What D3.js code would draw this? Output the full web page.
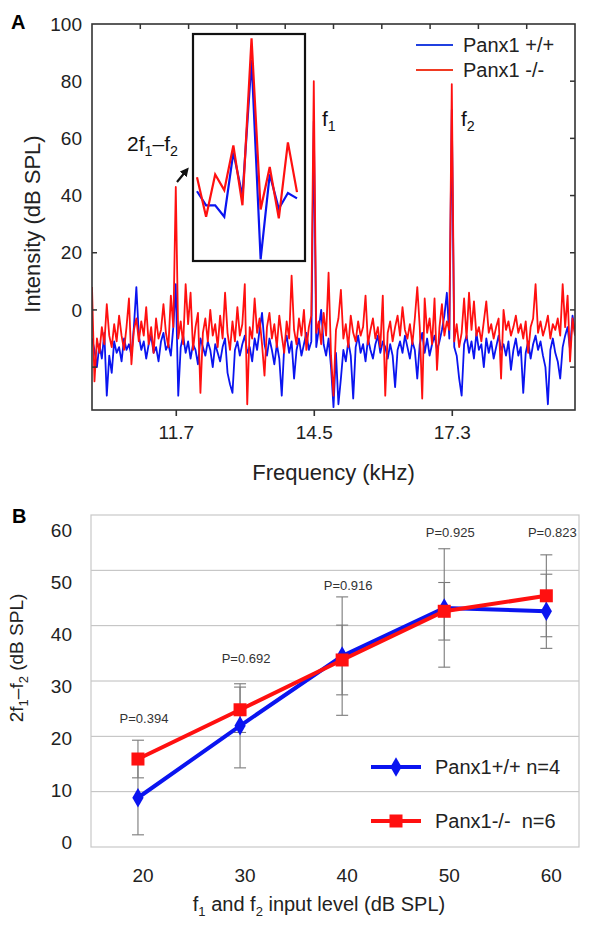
<!DOCTYPE html>
<html><head><meta charset="utf-8">
<script src="https://cdn.jsdelivr.net/npm/d3@7"></script>
<style>body{margin:0;background:#fff}svg{display:block;font-family:Arial,"Liberation Sans",sans-serif}</style>
</head><body><svg id="c" width="590" height="926"></svg>
<script>
// ---------- Panel A data ----------
const freqStart = 10.0, freqEnd = 19.8;           // kHz span of the spectrum bins
const freqTicks = [11.7, 14.5, 17.3];
const intensityTicks = [0, 20, 40, 60, 80, 100];
const spectrumWT = [-10,-14,-20,-12,-17,-8,-30,-16,-22,-11,-15,-13,-18,-10,-14,-12,-16,-6,8,-9,
-14,-11,-17,-12,-9,-15,-13,-18,-11,-8,-14,-12,-16,-6,9,-30,-13,-9,-15,-11,
-17,-12,-14,-19,-10,-13,-16,-11,-14,-20,-12,-15,-18,-13,-10,-22,-26,-29,-14,-11,
-16,-12,-9,-15,-13,-18,-10,-14,-7,-1,-12,-16,-10,-14,-19,-12,-17,-30,-13,-9,
-15,-11,-24,-14,-10,-16,-12,-8,-14,-11,66,-13,-7,0,-12,-16,-10,-20,-34,-15,
-33,-24,-14,-18,-11,-16,-31,-13,-9,-15,-12,-18,-10,-14,-17,-12,-9,-15,-11,-13,
-17,-12,-16,-27,-14,-11,-15,-9,-13,-17,-11,-14,-24,-12,-8,-15,-10,-16,-12,-9,
-14,-11,-7,-2,6,-10,70,-13,-16,-24,-30,-12,-9,-15,-11,-17,-8,-14,-12,-20,
-10,-15,-11,-17,-13,-9,-14,-12,-16,-11,-21,-14,-10,-16,-13,-29,-15,-11,-17,-12,
-9,-14,-11,-16,-20,-33,-14,-10,-15,-18,-24,-13,-9,-6,-14,-2,-8];
const spectrumKO = [8,-25,-10,-15,-6,-12,2,-9,-13,-5,-11,-2,-9,-14,-6,4,-19,-7,-3,-11,
-4,-9,1,-12,-6,-15,-3,-10,-7,2,-8,-13,5,-6,43,-10,-4,-12,9,-5,
6,-14,-6,-1,-29,-8,-3,-11,0,-9,-5,-13,-2,-10,6,-8,-14,-4,-11,1,
-9,-5,9,-33,-6,-10,4,-8,-3,-12,-23,-6,-1,-10,-5,-13,-2,-9,-15,-4,
-10,12,-7,-12,-3,-9,0,-14,-6,-2,80,-8,-4,-12,-1,-9,13,-16,-30,-7,
-3,7,-10,-5,-13,-2,-8,-11,-4,-9,-6,5,-12,-7,-3,-10,-6,-13,5,-30,
-8,-4,-11,-6,-2,-9,1,-7,-10,-5,-12,-3,8,-6,-31,4,-8,-3,-12,4,
-21,-6,2,-9,-4,-7,79,-11,-5,-13,-8,4,-10,6,-7,3,-9,-6,-11,-4,
3,-8,-5,-10,-6,-3,-24,0,-7,-4,-9,-6,-2,-8,-5,-10,-4,-15,-6,-3,
9,-8,-4,-9,-6,-2,-10,-5,-7,-3,-9,9,-6,5,-18,-3,-9];
const insetWT = [41.5,36.6,36.6,32.6,55.1,39.8,87.5,17.7,47.4,35.4,40.9,39.0];
const insetKO = [46.4,32.6,47.4,41.9,57.5,36.6,95.0,35.1,50.0,32.0,58.6,41.2];

// ---------- Panel B data ----------
const levels = [20, 30, 40, 50, 60];
const dpWT = [8.9, 21.9, 34.5, 43.2, 42.6];
const dpKO = [15.9, 24.8, 33.8, 42.6, 45.4];
const errWT = [6.7, 7.6, 10.7, 10.7, 6.7];
const errKO = [3.4, 4.1, 6.3, 5.2, 7.4];
const pLabels = ["P=0.394", "P=0.692", "P=0.916", "P=0.925", "P=0.823"];
const pLabelLevel = [23.3, 34, 47.2, 56.8, 56.8];
const dpTicks = [0, 10, 20, 30, 40, 50, 60];

const BLUE = "#0a14f0", RED = "#ff1010";
const svg = d3.select("#c");

// ================= PANEL A =================
const A = {l: 92, r: 575, t: 24, b: 410};
const xA = d3.scaleLinear().domain([freqStart, freqEnd]).range([A.l, A.r]);
const yA = d3.scaleLinear().domain([-35, 100]).range([A.b, A.t]);
const binFreq = d3.scaleLinear().domain([0, spectrumKO.length - 1]).range([freqStart, freqEnd]);

svg.append("clipPath").attr("id", "clipA").append("rect")
  .attr("x", A.l).attr("y", A.t).attr("width", A.r - A.l).attr("height", A.b - A.t);

const lineA = d3.line().x((d, i) => xA(binFreq(i))).y(d => yA(d));
const gA = svg.append("g").attr("clip-path", "url(#clipA)");
gA.append("path").datum(spectrumWT).attr("d", lineA).attr("fill", "none")
  .attr("stroke", BLUE).attr("stroke-width", 1.8).attr("stroke-linejoin", "round");
gA.append("path").datum(spectrumKO).attr("d", lineA).attr("fill", "none")
  .attr("stroke", RED).attr("stroke-width", 1.8).attr("stroke-linejoin", "round");

// frame
svg.append("rect").attr("x", A.l).attr("y", A.t).attr("width", A.r - A.l).attr("height", A.b - A.t)
  .attr("fill", "none").attr("stroke", "#333").attr("stroke-width", 1.6);

// bottom axis
const axB = svg.append("g").attr("transform", `translate(0,${A.b})`)
  .call(d3.axisBottom(xA).tickValues(freqTicks).tickFormat(d3.format(".1f")).tickSize(6).tickPadding(10));
axB.select(".domain").remove();
axB.selectAll("line").attr("stroke", "#333").attr("stroke-width", 1.6);
axB.selectAll("text").attr("font-size", 19).attr("fill", "#222").attr("font-family", "Arial, 'Liberation Sans', sans-serif");

// left axis labels
const axL = svg.append("g").attr("transform", `translate(${A.l},0)`)
  .call(d3.axisLeft(yA).tickValues(intensityTicks).tickSize(0).tickPadding(10));
axL.select(".domain").remove();
axL.selectAll("text").attr("font-size", 19).attr("fill", "#222").attr("font-family", "Arial, 'Liberation Sans', sans-serif");
// small inner ticks on left
svg.append("g").selectAll("line").data([-20, 0, 20]).join("line")
  .attr("x1", A.l).attr("x2", A.l + 5).attr("y1", d => yA(d)).attr("y2", d => yA(d))
  .attr("stroke", "#333").attr("stroke-width", 1.5);
// right inner ticks
svg.append("g").selectAll("line").data([-20, 0, 20, 40, 60, 80]).join("line")
  .attr("x1", A.r).attr("x2", A.r - 5).attr("y1", d => yA(d)).attr("y2", d => yA(d))
  .attr("stroke", "#333").attr("stroke-width", 1.5);
// top inner ticks (10 equal divisions)
svg.append("g").selectAll("line").data(d3.range(1, 10).map(k => freqStart + k * (freqEnd - freqStart) / 10)).join("line")
  .attr("x1", d => xA(d)).attr("x2", d => xA(d)).attr("y1", A.t).attr("y2", A.t + 5)
  .attr("stroke", "#333").attr("stroke-width", 1.5);

// titles
svg.append("text").attr("x", (A.l + A.r) / 2).attr("y", 472).attr("text-anchor", "middle")
  .attr("dominant-baseline", "central").attr("font-size", 22).attr("fill", "#222").text("Frequency (kHz)");
svg.append("text").attr("transform", "translate(32,224) rotate(-90)").attr("text-anchor", "middle")
  .attr("dominant-baseline", "central").attr("font-size", 22).attr("fill", "#222").text("Intensity (dB SPL)");
svg.append("text").attr("x", 11).attr("y", 29).attr("font-size", 20).attr("font-weight", "bold").text("A");

// inset
const I = {l: 193, r: 305, t: 34, b: 261};
svg.append("clipPath").attr("id", "clipI").append("rect")
  .attr("x", I.l).attr("y", I.t).attr("width", I.r - I.l).attr("height", I.b - I.t);
svg.append("rect").attr("x", I.l).attr("y", I.t).attr("width", I.r - I.l).attr("height", I.b - I.t)
  .attr("fill", "#fff").attr("stroke", "none");
const xI = d3.scaleLinear().domain([0, insetKO.length - 1]).range([197, 297]);
const lineI = d3.line().x((d, i) => xI(i)).y(d => yA(d));
const gI = svg.append("g").attr("clip-path", "url(#clipI)");
gI.append("path").datum(insetWT).attr("d", lineI).attr("fill", "none").attr("stroke", BLUE).attr("stroke-width", 2.2);
gI.append("path").datum(insetKO).attr("d", lineI).attr("fill", "none").attr("stroke", RED).attr("stroke-width", 2.2);
svg.append("rect").attr("x", I.l).attr("y", I.t).attr("width", I.r - I.l).attr("height", I.b - I.t)
  .attr("fill", "none").attr("stroke", "#111").attr("stroke-width", 2.2);

// annotations
function subLabel(x, y, parts, size) {
  const t = svg.append("text").attr("x", x).attr("y", y).attr("font-size", size).attr("fill", "#111");
  parts.forEach(p => {
    if (p.sub) t.append("tspan").attr("font-size", size * 0.68).attr("dy", size * 0.25).text(p.t);
    else t.append("tspan").attr("dy", p.back ? -size * 0.25 : 0).text(p.t);
  });
}
subLabel(127, 151, [{t: "2f"}, {t: "1", sub: true}, {t: "\u2013f", back: true}, {t: "2", sub: true}], 21);
subLabel(322, 126, [{t: "f"}, {t: "1", sub: true}], 21);
subLabel(461, 126, [{t: "f"}, {t: "2", sub: true}], 21);
svg.append("defs").append("marker").attr("id", "arr").attr("viewBox", "0 0 10 10").attr("refX", 5).attr("refY", 5)
  .attr("markerWidth", 4).attr("markerHeight", 4).attr("orient", "auto")
  .append("path").attr("d", "M0,0 L10,5 L0,10 z").attr("fill", "#111");
svg.append("line").attr("x1", 177).attr("y1", 182).attr("x2", 186).attr("y2", 171)
  .attr("stroke", "#111").attr("stroke-width", 2.2).attr("marker-end", "url(#arr)");

// legend A
[["Panx1 +/+", "#2040e0", 45], ["Panx1 -/-", "#f03a22", 70]].forEach(([lab, c, y]) => {
  svg.append("line").attr("x1", 416).attr("x2", 453).attr("y1", y).attr("y2", y).attr("stroke", c).attr("stroke-width", 2);
  svg.append("text").attr("x", 463).attr("y", y).attr("dominant-baseline", "central")
    .attr("font-size", 20).attr("fill", "#222").text(lab);
});

// ================= PANEL B =================
const B = {l: 91, r: 579, t: 515, b: 847};
const xB = d3.scaleLinear().domain([15.4, 63.2]).range([B.l, B.r]);
const yB = d3.scaleLinear().domain([0, 60]).range([B.b, B.t]);
const yBLabel = d3.scaleLinear().domain([0, 60]).range([842, 530]);

svg.append("g").selectAll("line").data(dpTicks.filter(d => d > 0 && d < 60)).join("line")
  .attr("x1", B.l).attr("x2", B.r).attr("y1", d => yB(d)).attr("y2", d => yB(d))
  .attr("stroke", "#bcbcbc").attr("stroke-width", 1);
svg.append("rect").attr("x", B.l).attr("y", B.t).attr("width", B.r - B.l).attr("height", B.b - B.t)
  .attr("fill", "none").attr("stroke", "#c8c8c8").attr("stroke-width", 1.2);

svg.append("g").selectAll("text").data(dpTicks).join("text")
  .attr("x", 72).attr("y", d => yBLabel(d)).attr("text-anchor", "end").attr("dominant-baseline", "central")
  .attr("font-size", 19).attr("fill", "#222").text(d => d);
svg.append("g").selectAll("text").data(levels).join("text")
  .attr("x", d => xB(d) + 5).attr("y", 875).attr("text-anchor", "middle").attr("dominant-baseline", "central")
  .attr("font-size", 19).attr("fill", "#222").text(d => d);

// error bars
function errBars(vals, errs) {
  const g = svg.append("g").attr("stroke", "#7a7a7a").attr("stroke-width", 1.1);
  levels.forEach((lv, i) => {
    const x = xB(lv), y1 = yB(vals[i] - errs[i]), y2 = yB(vals[i] + errs[i]);
    g.append("line").attr("x1", x).attr("x2", x).attr("y1", y1).attr("y2", y2);
    g.append("line").attr("x1", x - 6).attr("x2", x + 6).attr("y1", y1).attr("y2", y1);
    g.append("line").attr("x1", x - 6).attr("x2", x + 6).attr("y1", y2).attr("y2", y2);
  });
}
errBars(dpWT, errWT);
errBars(dpKO, errKO);

const lineB = d3.line().x((d, i) => xB(levels[i])).y(d => yB(d));
svg.append("path").datum(dpWT).attr("d", lineB).attr("fill", "none").attr("stroke", BLUE).attr("stroke-width", 4);
const diamond = d3.symbol().type(d3.symbolDiamond).size(110);
svg.append("g").selectAll("path").data(dpWT).join("path")
  .attr("d", diamond).attr("transform", (d, i) => `translate(${xB(levels[i])},${yB(d)})`).attr("fill", BLUE);
svg.append("path").datum(dpKO).attr("d", lineB).attr("fill", "none").attr("stroke", RED).attr("stroke-width", 4);
svg.append("g").selectAll("rect").data(dpKO).join("rect")
  .attr("x", (d, i) => xB(levels[i]) - 6.5).attr("y", d => yB(d) - 6.5).attr("width", 13).attr("height", 13).attr("fill", RED);

// P labels
svg.append("g").selectAll("text").data(pLabels).join("text")
  .attr("x", (d, i) => xB(levels[i]) + 6).attr("y", (d, i) => yB(pLabelLevel[i]))
  .attr("text-anchor", "middle").attr("dominant-baseline", "central").attr("font-size", 13).attr("fill", "#333").text(d => d);

// legend B
const legB = [["Panx1+/+ n=4", BLUE, 767, "d"], ["Panx1-/-\u00a0\u00a0n=6", RED, 821, "s"]];
legB.forEach(([lab, c, y, m]) => {
  svg.append("line").attr("x1", 371).attr("x2", 421).attr("y1", y).attr("y2", y).attr("stroke", c).attr("stroke-width", 4);
  if (m === "d") svg.append("path").attr("d", diamond).attr("transform", `translate(396,${y})`).attr("fill", c);
  else svg.append("rect").attr("x", 389.5).attr("y", y - 6.5).attr("width", 13).attr("height", 13).attr("fill", c);
  svg.append("text").attr("x", 435).attr("y", y).attr("dominant-baseline", "central").attr("font-size", 20).attr("fill", "#222").text(lab);
});

// titles B
(function () {
  const t = svg.append("text").attr("x", 319).attr("y", 911).attr("text-anchor", "middle").attr("font-size", 20).attr("fill", "#222");
  t.append("tspan").text("f");
  t.append("tspan").attr("font-size", 13).attr("dy", 5).text("1");
  t.append("tspan").attr("dy", -5).text(" and f");
  t.append("tspan").attr("font-size", 13).attr("dy", 5).text("2");
  t.append("tspan").attr("dy", -5).text(" input level (dB SPL)");
})();
(function () {
  const t = svg.append("text").attr("transform", "translate(23,658) rotate(-90)").attr("text-anchor", "middle").attr("font-size", 19).attr("fill", "#222");
  t.append("tspan").text("2f");
  t.append("tspan").attr("font-size", 13).attr("dy", 5).text("1");
  t.append("tspan").attr("dy", -5).text("\u2013f");
  t.append("tspan").attr("font-size", 13).attr("dy", 5).text("2");
  t.append("tspan").attr("dy", -5).text(" (dB SPL)");
})();
svg.append("text").attr("x", 12).attr("y", 523).attr("font-size", 20).attr("font-weight", "bold").text("B");
</script></body></html>
